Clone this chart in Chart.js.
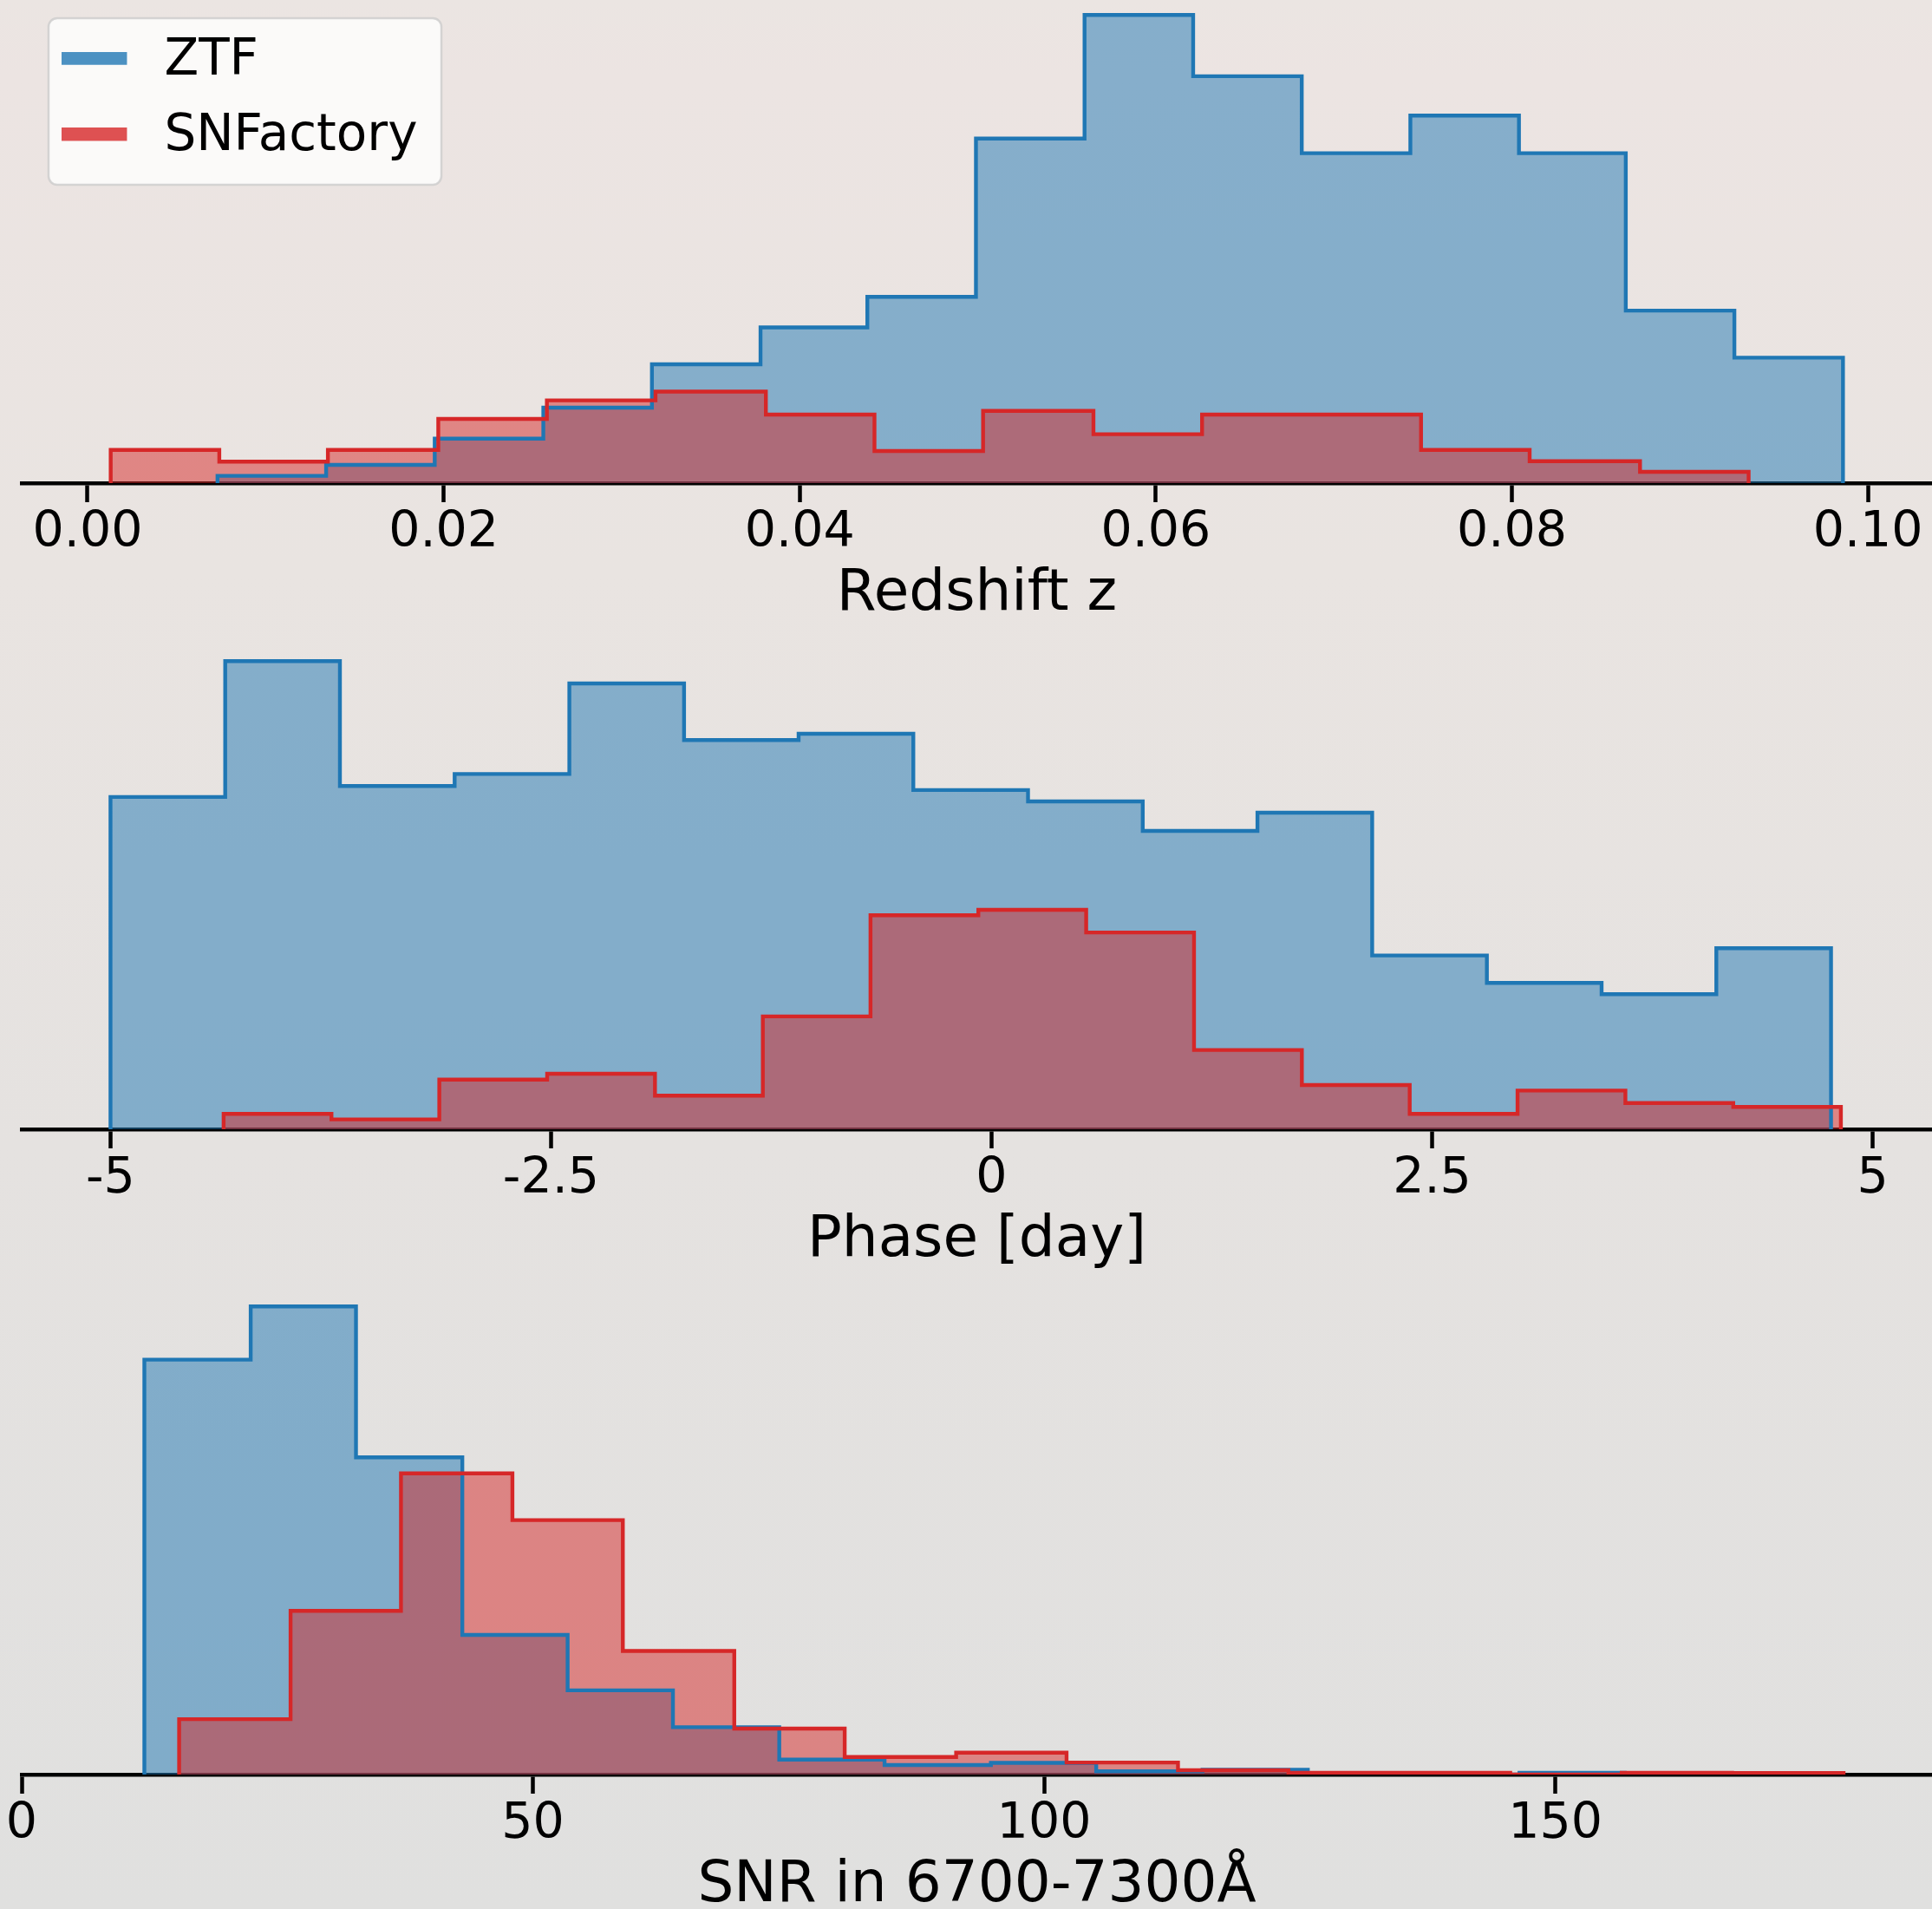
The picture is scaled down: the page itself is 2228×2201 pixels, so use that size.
<!DOCTYPE html>
<html>
<head>
<meta charset="utf-8">
<script src="https://cdn.jsdelivr.net/npm/chart.js@4.4.1/dist/chart.umd.min.js"></script>
<style>
  html, body {
    margin: 0; padding: 0; width: 2228px; height: 2201px; overflow: hidden;
    background: linear-gradient(to bottom, #ebe5e2 0%, #ece4e2 4%, #e9e4e1 30%, #e5e2e0 60%, #e0e0df 100%);
  }
  canvas { position: absolute; left: 0; }
</style>
</head>
<body>
<canvas id="zChart" width="2228" height="745" style="top:0px"></canvas>
<canvas id="phaseChart" width="2228" height="745" style="top:745px"></canvas>
<canvas id="snrChart" width="2228" height="745" style="top:1489px"></canvas>
<script>
// ---- Redshift z ----
const zEdgesZTF  = [0.0073, 0.0134, 0.0195, 0.0256, 0.0317, 0.0378, 0.0438, 0.0499, 0.0560, 0.0621, 0.0682, 0.0743, 0.0804, 0.0864, 0.0925, 0.0986];
const zCountsZTF = [2.0, 5.0, 12.2, 20.7, 32.6, 42.7, 51.1, 94.5, 128.4, 111.6, 90.5, 100.8, 90.5, 47.3, 34.4];
const zEdgesSNF  = [0.0013, 0.0074, 0.0135, 0.0197, 0.0258, 0.0319, 0.0381, 0.0442, 0.0503, 0.0565, 0.0626, 0.0688, 0.0749, 0.0810, 0.0872, 0.0933];
const zCountsSNF = [9.1, 5.9, 9.1, 17.6, 22.7, 25.1, 18.8, 8.8, 19.8, 13.4, 18.8, 18.8, 9.1, 6.0, 3.1];
const zTicks      = [0, 0.02, 0.04, 0.06, 0.08, 0.10];
const zTickLabels = ['0.00', '0.02', '0.04', '0.06', '0.08', '0.10'];

// ---- Phase [day] ----
const phaseEdgesZTF  = [-5.000, -4.349, -3.698, -3.047, -2.396, -1.745, -1.095, -0.444, 0.207, 0.858, 1.509, 2.160, 2.811, 3.462, 4.113, 4.764];
const phaseCountsZTF = [91.0, 128.2, 94.0, 97.3, 122.1, 106.6, 108.3, 92.9, 89.8, 81.7, 86.7, 47.6, 40.1, 37.0, 49.6];
const phaseEdgesSNF  = [-4.358, -3.746, -3.134, -2.522, -1.910, -1.298, -0.687, -0.075, 0.537, 1.149, 1.761, 2.373, 2.985, 3.597, 4.209, 4.820];
const phaseCountsSNF = [4.2, 2.7, 13.6, 15.2, 9.2, 30.9, 58.6, 60.1, 53.9, 21.7, 12.1, 4.2, 10.6, 7.2, 6.1];
const phaseTicks      = [-5, -2.5, 0, 2.5, 5];
const phaseTickLabels = ['-5', '-2.5', '0', '2.5', '5'];

// ---- SNR in 6700-7300 Å ----
const snrEdgesZTF  = [12.0, 22.4, 32.7, 43.1, 53.4, 63.7, 74.1, 84.4, 94.8, 105.1, 115.5, 125.8, 136.1, 146.5, 156.8, 167.2];
const snrCountsZTF = [113.8, 128.4, 87.0, 38.3, 23.1, 13.0, 4.1, 2.6, 3.2, 0.9, 1.3, 0, 0, 0.5, 0];
const snrEdgesSNF  = [15.4, 26.3, 37.1, 48.0, 58.8, 69.7, 80.5, 91.4, 102.2, 113.1, 123.9, 134.8, 145.6, 156.5, 167.3, 178.2];
const snrCountsSNF = [15.2, 44.9, 82.6, 69.8, 33.9, 12.6, 4.8, 6.0, 3.3, 1.2, 0.5, 0.5, 0, 0.5, 0.4];
const snrTicks      = [0, 50, 100, 150];
const snrTickLabels = ['0', '50', '100', '150'];

const seriesNames = ['ZTF', 'SNFactory'];

const FONT = 'DejaVu Sans';
const BLUE = '31,119,180';
const RED  = '214,39,40';

// Outline of a step-filled histogram: up at the first edge, across each bin, down at the last edge
function stepOutline(edges, heights) {
  const pts = [{ x: edges[0], y: 0 }];
  heights.forEach((h, i) => {
    pts.push({ x: edges[i], y: h });
    pts.push({ x: edges[i + 1], y: h });
  });
  pts.push({ x: edges[edges.length - 1], y: 0 });
  return pts;
}

function histDataset(label, edges, heights, rgb, order) {
  return {
    label,
    data: stepOutline(edges, heights),
    borderColor: `rgb(${rgb})`,
    backgroundColor: `rgba(${rgb},0.5)`,
    fill: 'origin',
    borderWidth: 4.4,
    borderJoinStyle: 'miter',
    borderCapStyle: 'butt',
    pointRadius: 0,
    pointHoverRadius: 0,
    tension: 0,
    order
  };
}

// Legend swatch: a thick bar with some transparent room on its right
function swatch(rgb) {
  const c = document.createElement('canvas');
  c.width = 89; c.height = 22;
  const g = c.getContext('2d');
  g.fillStyle = `rgba(${rgb},0.8)`;
  g.fillRect(0, 0, 75, 15);
  return c;
}

// Places the legend at the upper left and paints its rounded frame
const legendFrame = {
  id: 'legendFrame',
  afterLayout(chart) {
    chart.legend.left = 41.7;
    chart.legend.top = 12;
  },
  beforeDraw(chart) {
    const ctx = chart.ctx;
    ctx.save();
    ctx.beginPath();
    ctx.roundRect(56, 21, 453, 192, 10);
    ctx.fillStyle = 'rgba(255,255,255,0.8)';
    ctx.fill();
    ctx.lineWidth = 2.5;
    ctx.strokeStyle = 'rgba(204,204,204,0.8)';
    ctx.stroke();
    ctx.restore();
  }
};

function makeHistChart(id, ztf, snf, ticks, tickLabels, xmin, xmax, title, withLegend) {
  const peak = Math.max(...ztf[1], ...snf[1]);
  const swatches = [swatch(BLUE), swatch(RED)];
  return new Chart(document.getElementById(id), {
    type: 'line',
    data: {
      datasets: [
        histDataset(seriesNames[0], ztf[0], ztf[1], BLUE, 2),
        histDataset(seriesNames[1], snf[0], snf[1], RED, 1)
      ]
    },
    options: {
      responsive: false,
      animation: false,
      devicePixelRatio: 1,
      events: [],
      layout: { padding: { left: 25, right: 0, top: 0, bottom: 0 } },
      plugins: {
        filler: { drawTime: 'beforeDatasetsDraw' },
        tooltip: { enabled: false },
        legend: withLegend ? {
          display: true,
          position: 'chartArea',
          align: 'start',
          labels: {
            usePointStyle: true,
            pointStyleWidth: 89,
            padding: 29.7,
            color: '#000',
            font: { family: FONT, size: 58 },
            generateLabels: chart => chart.data.datasets.map((ds, i) => ({
              text: ds.label,
              pointStyle: swatches[i],
              fillStyle: ds.borderColor,
              strokeStyle: 'rgba(0,0,0,0)',
              lineWidth: 0,
              hidden: false,
              datasetIndex: i,
              fontColor: '#000'
            }))
          }
        } : { display: false }
      },
      scales: {
        x: {
          type: 'linear',
          position: 'bottom',
          min: xmin,
          max: xmax,
          afterBuildTicks: s => { s.ticks = ticks.map(v => ({ value: v })); },
          afterFit: s => { s.height = 188; },
          ticks: {
            autoSkip: false,
            maxRotation: 0,
            padding: 2,
            color: '#000',
            font: { family: FONT, size: 57 },
            callback: (v, i) => tickLabels[i]
          },
          grid: {
            display: true,
            drawOnChartArea: false,
            drawTicks: true,
            tickLength: 22,
            tickWidth: 4.5,
            tickColor: '#000'
          },
          border: { display: true, color: '#000', width: 4.5 },
          title: {
            display: true,
            text: title,
            color: '#000',
            font: { family: FONT, size: 66 },
            padding: { top: 0, bottom: 20 }
          }
        },
        y: { display: false, min: 0, max: peak * 1.032 }
      }
    },
    plugins: withLegend ? [legendFrame] : []
  });
}

makeHistChart('zChart', [zEdgesZTF, zCountsZTF], [zEdgesSNF, zCountsSNF],
  zTicks, zTickLabels, -0.0037, 0.1036, 'Redshift z', true);
makeHistChart('phaseChart', [phaseEdgesZTF, phaseCountsZTF], [phaseEdgesSNF, phaseCountsSNF],
  phaseTicks, phaseTickLabels, -5.504, 5.337, 'Phase [day]', false);
makeHistChart('snrChart', [snrEdgesZTF, snrCountsZTF], [snrEdgesSNF, snrCountsSNF],
  snrTicks, snrTickLabels, 0, 186.85, 'SNR in 6700-7300Å', false);
</script>
</body>
</html>
